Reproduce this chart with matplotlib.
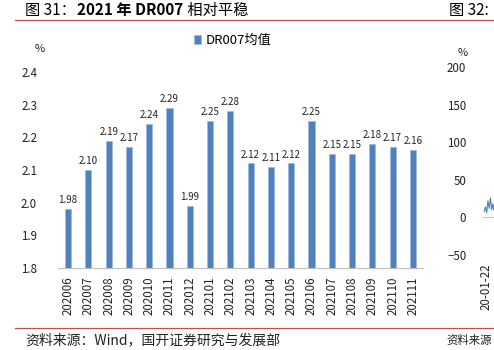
import numpy as np
import matplotlib
matplotlib.use("Agg")
import matplotlib.pyplot as plt

plt.rcParams['font.family'] = ['Noto Sans CJK SC', 'DejaVu Sans']

months = ["202006", "202007", "202008", "202009", "202010", "202011", "202012",
          "202101", "202102", "202103", "202104", "202105", "202106", "202107",
          "202108", "202109", "202110", "202111"]
dr007 = [1.98, 2.10, 2.19, 2.17, 2.24, 2.29, 1.99, 2.25, 2.28, 2.12, 2.11, 2.12,
         2.25, 2.15, 2.15, 2.18, 2.17, 2.16]

# the neighbouring chart (fig 32) only shows its left edge
side_vals = [8, 14, 6, 22, 12, 26, 10, 18, 9, 15, 20, 11]
side_ticks = [-50, 0, 50, 100, 150, 200]

W, H = 494, 350
fig = plt.figure(figsize=(W / 100, H / 100), dpi=100)

def fx(px):
    return px / W

def fy(py):
    return 1 - py / H

blue = "#4F81BD"
txt = "#222222"

# main chart
ax = fig.add_axes([fx(58), fy(268), fx(423) - fx(58), fy(72) - fy(268)])
x = np.arange(len(months))
ax.bar(x, dr007, width=0.3, color=blue, edgecolor="#9DB8DC", linewidth=0.5,
       label="DR007均值")
ax.set_xlim(-0.5, len(months) - 0.5)
ax.set_ylim(1.8, 2.4)
yt = [1.8, 1.9, 2.0, 2.1, 2.2, 2.3, 2.4]
ax.set_yticks(yt)
ax.set_yticklabels(["%.1f" % v for v in yt])
ax.set_xticks(x)
ax.set_xticklabels(months, rotation=90)
ax.tick_params(axis='both', length=0, labelsize=8.3, colors=txt)
ax.tick_params(axis='y', pad=15)
ax.tick_params(axis='x', pad=6)
for s in ["top", "right", "left"]:
    ax.spines[s].set_visible(False)
ax.spines["bottom"].set_color("#BFBFBF")
for xi, v in zip(x, dr007):
    ax.text(xi, v + 0.012, "%.2f" % v, ha="center", va="bottom", fontsize=7,
            color=txt)
ax.legend(loc="upper left", bbox_to_anchor=(0.357, 1.22), frameon=False, fontsize=9.5,
          handlelength=0.6, handleheight=0.6, handletextpad=0.3, borderaxespad=0)
fig.text(fx(40), fy(49), "%", ha="center", va="center", fontsize=8, color=txt)

# clipped neighbouring chart
ax2 = fig.add_axes([fx(483), fy(255), 0.3, fy(67) - fy(255)])
ax2.plot(np.arange(len(side_vals)) + 1, side_vals, color=blue, linewidth=0.8)
ax2.axhline(0, color="#BFBFBF", linewidth=0.8)
ax2.set_xlim(0, 120)
ax2.set_ylim(-50, 200)
ax2.set_yticks(side_ticks)
ax2.set_xticks([2.5])
ax2.set_xticklabels(["20-01-22"], rotation=90)
ax2.tick_params(axis='both', length=0, labelsize=8.3, colors=txt)
ax2.tick_params(axis='y', pad=12)
ax2.tick_params(axis='x', pad=6)
for s in ax2.spines.values():
    s.set_visible(False)
fig.text(fx(463), fy(53), "%", ha="center", va="center", fontsize=8, color=txt)

# title, rules and source
t1 = fig.text(fx(25), fy(10), "图 31：", fontsize=11, va="center", ha="left")
t2 = fig.add_artist(plt.Annotation("2021 年 DR007", xy=(1, 0.5), xycoords=t1,
                                   xytext=(1, 0), textcoords="offset points",
                                   fontsize=11, fontweight="bold", va="center", ha="left"))
fig.add_artist(plt.Annotation(" 相对平稳", xy=(1, 0.5), xycoords=t2,
                              xytext=(0, 0), textcoords="offset points",
                              fontsize=11, va="center", ha="left"))
fig.text(fx(449), fy(10), "图 32:", fontsize=11, va="center", ha="left")
fig.add_artist(plt.Line2D([fx(15), 1], [fy(19.5), fy(19.5)], color="#C0504D",
                          linewidth=0.9))
fig.add_artist(plt.Line2D([fx(15), 1], [fy(327.5), fy(327.5)], color="#C0504D",
                          linewidth=0.9))
fig.text(fx(25), fy(340), "资料来源：Wind，国开证券研究与发展部", fontsize=10,
         va="center", ha="left", color=txt)
fig.text(fx(446), fy(340), "资料来源", fontsize=8.2, va="center", ha="left",
         color=txt)

fig.savefig("out.png", dpi=100)
